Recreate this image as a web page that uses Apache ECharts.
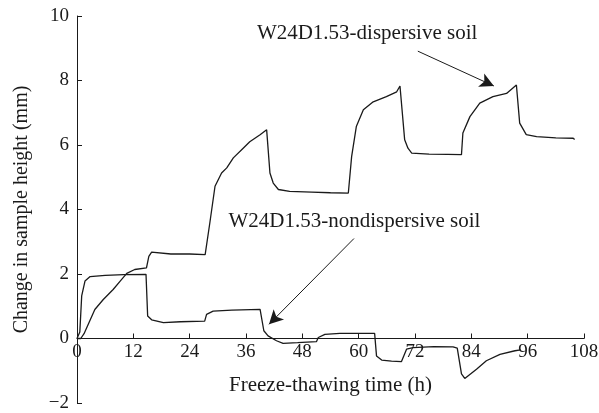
<!DOCTYPE html>
<html>
<head>
<meta charset="utf-8">
<script src="https://cdn.jsdelivr.net/npm/echarts@6/dist/echarts.min.js"></script>
<style>
  html, body { margin: 0; padding: 0; background: #fff; }
  #chart { width: 599px; height: 413px; }
</style>
</head>
<body>
<div id="chart"></div>
<script>
// time (h) and height change (mm)
const dispTime = [0, 0.8, 1.5, 2.4, 3.8, 5.6, 7.7, 9.2, 10.6, 12.3, 14.8, 15.3, 15.9, 20, 24, 27.3,
  27.6, 28.3, 29.4, 30.8, 31.9, 33.3, 35.4, 36.8, 39, 40.4, 41.1, 41.8, 42.9, 45.3, 50, 54, 57.8,
  58.5, 59.5, 61, 63.1, 65.9, 68.1, 68.8, 69.8, 70.5, 71.3, 75, 79, 81.9,
  82.2, 83.7, 85.8, 88.6, 91.5, 93.6, 94.3, 95.7, 97.9, 102, 105.7, 106];
const dispHeight = [0, 0, 0.15, 0.44, 0.9, 1.21, 1.52, 1.78, 2.02, 2.14, 2.19, 2.55, 2.68, 2.62, 2.62, 2.6,
  2.62, 3.59, 4.72, 5.13, 5.29, 5.6, 5.9, 6.1, 6.32, 6.47, 5.13, 4.82, 4.62, 4.56, 4.54, 4.52, 4.51,
  5.64, 6.57, 7.09, 7.34, 7.5, 7.65, 7.83, 6.16, 5.9, 5.75, 5.72, 5.71, 5.7,
  6.37, 6.88, 7.3, 7.5, 7.6, 7.86, 6.68, 6.32, 6.26, 6.22, 6.21, 6.17];

const nondTime = [0, 0.6, 1.0, 1.7, 2.8, 6, 10, 14.7, 15.05, 15.9, 18.4, 22, 27.2,
  27.6, 29, 33, 39, 39.8, 40.7, 42.5, 43.9, 47, 51, 51.4, 52.8, 56, 60, 63.4,
  63.8, 64.9, 67, 69.1, 70.2, 71.6, 76, 80.1, 81.0, 81.9, 82.6, 85.1, 87.2, 90.1, 93.3, 94.5];
const nondHeight = [0, 0.2, 1.32, 1.78, 1.92, 1.96, 1.98, 1.99, 0.7, 0.58, 0.49, 0.52, 0.54,
  0.75, 0.85, 0.88, 0.9, 0.24, 0.08, -0.07, -0.15, -0.13, -0.1, 0.03, 0.13, 0.16, 0.16, 0.16,
  -0.54, -0.67, -0.7, -0.72, -0.33, -0.28, -0.25, -0.26, -0.3, -1.1, -1.24, -0.95, -0.69, -0.49, -0.38, -0.35];

const labelDisp = "W24D1.53-dispersive soil";
const labelNond = "W24D1.53-nondispersive soil";
// annotation anchors in data units: [text, arrow start, arrow tip]
const dispNote = [[61.8, 9.47], [72.6, 8.91], [88.8, 7.83]];
const nondNote = [[59.1, 3.63], [59.0, 3.10], [40.9, 0.44]];

const font = "Liberation Serif";
const ink = "#1a1a1a";

function pairs(xs, ys) {
  return xs.map((x, i) => [x, ys[i]]);
}

function note(text, n) {
  return {
    markLine: {
      silent: true,
      symbol: ["none", "arrow"],
      symbolSize: [11, 14],
      lineStyle: { color: ink, width: 1, type: "solid" },
      label: { show: false },
      data: [[{ coord: n[1] }, { coord: n[2] }]]
    },
    markPoint: {
      silent: true,
      symbol: "circle",
      symbolSize: 0,
      label: {
        show: true, position: "inside", formatter: text,
        color: ink, fontFamily: font, fontSize: 21
      },
      data: [{ coord: n[0] }]
    }
  };
}

const chart = echarts.init(document.getElementById("chart"));
chart.setOption({
  animation: false,
  grid: { left: 77, right: 15, top: 16, bottom: 10, containLabel: false, outerBoundsMode: "none" },
  xAxis: {
    type: "value", min: 0, max: 108, interval: 12,
    name: "Freeze-thawing time (h)", nameLocation: "middle", nameGap: 36,
    nameTextStyle: { color: ink, fontFamily: font, fontSize: 21 },
    axisLine: { onZero: false, lineStyle: { color: ink, width: 1 } },
    axisTick: { inside: true, length: 5, lineStyle: { color: ink } },
    axisLabel: { color: ink, fontFamily: font, fontSize: 19, margin: 4 },
    splitLine: { show: false }
  },
  yAxis: {
    type: "value", min: -2, max: 10, interval: 2,
    name: "Change in sample height (mm)", nameLocation: "middle", nameGap: 45,
    nameTextStyle: { color: ink, fontFamily: font, fontSize: 20 },
    axisLine: { show: true, onZero: false, lineStyle: { color: ink, width: 1 } },
    axisTick: { show: true, inside: true, length: 5, lineStyle: { color: ink } },
    axisLabel: {
      color: ink, fontFamily: font, fontSize: 19, margin: 8,
      formatter: (v) => String(v).replace("-", "\u2212")
    },
    splitLine: { show: false }
  },
  series: [
    Object.assign({
      name: labelDisp, type: "line", data: pairs(dispTime, dispHeight),
      showSymbol: false, lineStyle: { color: ink, width: 1.3 }
    }, note(labelDisp, dispNote)),
    Object.assign({
      name: labelNond, type: "line", data: pairs(nondTime, nondHeight),
      showSymbol: false, lineStyle: { color: ink, width: 1.3 }
    }, note(labelNond, nondNote))
  ]
});

// lift the time axis (line, ticks, labels, name) up to height = 0
const yZero = chart.convertToPixel({ yAxisIndex: 0 }, 0);
const yBottom = chart.convertToPixel({ yAxisIndex: 0 }, -2);
chart.setOption({ xAxis: { offset: -(yBottom - yZero) } });
</script>
</body>
</html>
